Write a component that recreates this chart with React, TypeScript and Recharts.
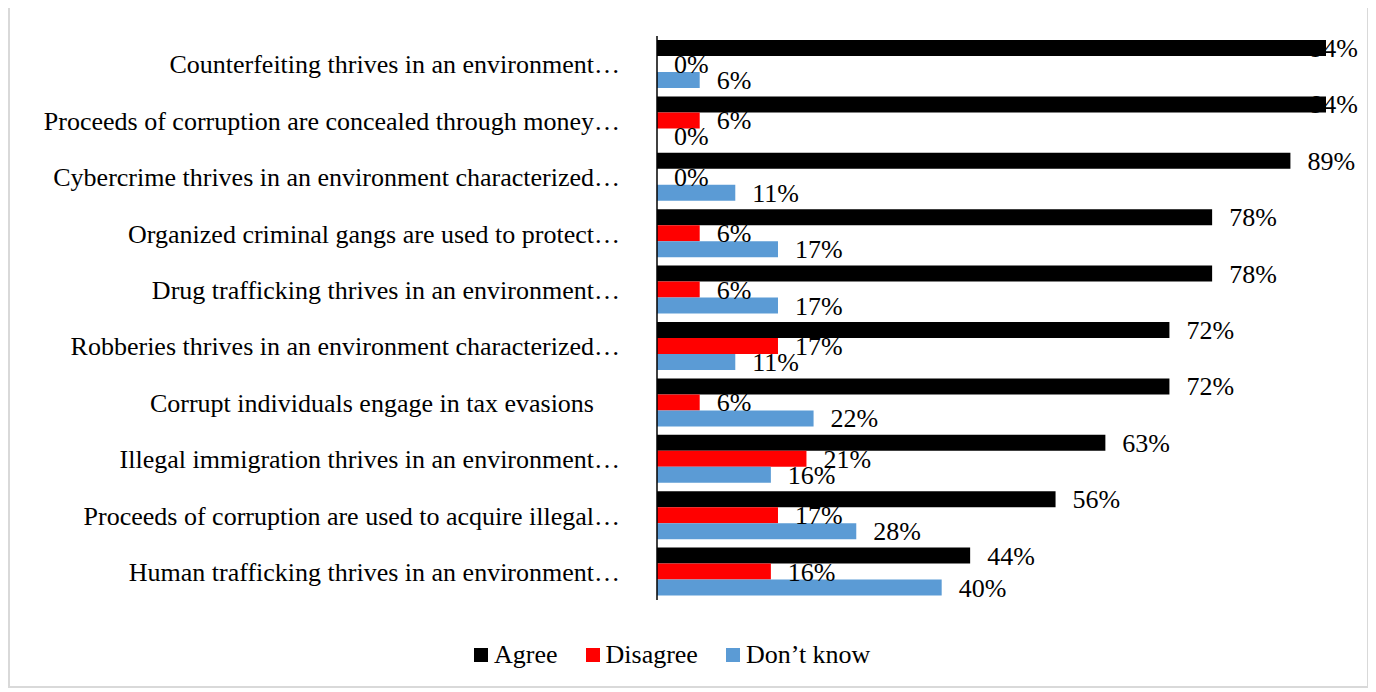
import { Bar, BarChart, LabelList, Legend, XAxis, YAxis } from 'recharts'

const categories = [
  'Counterfeiting thrives in an environment…',
  'Proceeds of corruption are concealed through money…',
  'Cybercrime thrives in an environment characterized…',
  'Organized criminal gangs are used to protect…',
  'Drug trafficking thrives in an environment…',
  'Robberies thrives in an environment characterized…',
  'Corrupt individuals engage in tax evasions\u00a0\u00a0\u00a0\u00a0',
  'Illegal immigration thrives in an environment…',
  'Proceeds of corruption are used to acquire illegal…',
  'Human trafficking thrives in an environment…',
]
const agree = [94, 94, 89, 78, 78, 72, 72, 63, 56, 44]
const disagree = [0, 6, 0, 6, 6, 17, 6, 21, 17, 16]
const dontKnow = [6, 0, 11, 17, 17, 11, 22, 16, 28, 40]

const seriesNames = ['Agree', 'Disagree', 'Don’t know']
const seriesColors = ['#000000', '#ff0000', '#5b9bd5']

const FONT = '"Liberation Serif", "Times New Roman", serif'
const LABEL_LIMIT = 1348

const rows = categories.map((name, i) => ({ name, agree: agree[i], disagree: disagree[i], dontKnow: dontKnow[i] }))

function ValueLabel(props: any) {
  const { x, y, width, height, value } = props
  let tx = Number(x) + Math.max(0, Number(width)) + 17
  let anchor: 'start' | 'end' = 'start'
  if (tx + 48 > LABEL_LIMIT) {
    tx = LABEL_LIMIT
    anchor = 'end'
  }
  return (
    <text x={tx} y={Number(y) + Number(height) / 2 + 9} textAnchor={anchor} fontSize={26} fontFamily={FONT} fill="#000">
      {`${value}%`}
    </text>
  )
}

function ChartLegend() {
  return (
    <div style={{ height: 30, display: 'flex', alignItems: 'center', paddingLeft: 464, fontFamily: FONT, fontSize: 26, color: '#000' }}>
      {seriesNames.map((name, i) => (
        <div key={name} style={{ display: 'flex', alignItems: 'center', marginRight: 28 }}>
          <span style={{ width: 14, height: 14, background: seriesColors[i], marginRight: 6, display: 'inline-block' }} />
          <span>{name}</span>
        </div>
      ))}
    </div>
  )
}

export default function App() {
  return (
    <div style={{ position: 'relative', width: 1361, height: 683, border: '2px solid #d9d9d9', boxSizing: 'border-box', marginTop: -3, background: '#fff' }}>
      <BarChart width={1356} height={678} data={rows} layout="vertical" barSize={16} barGap={0} margin={{ top: 29, right: 40, bottom: 55, left: 0 }}>
        <XAxis type="number" domain={[0, 94]} hide />
        <YAxis
          type="category"
          dataKey="name"
          width={647}
          interval={0}
          tickLine={false}
          tickSize={0}
          tickMargin={37}
          axisLine={{ stroke: '#000', strokeWidth: 1.5 }}
          tick={{ fontSize: 26, fontFamily: FONT, fill: '#000' }}
        />
        <Legend verticalAlign="bottom" content={<ChartLegend />} wrapperStyle={{ left: 0, width: 1356, bottom: 15 }} />
        <Bar dataKey="agree" name={seriesNames[0]} fill={seriesColors[0]} minPointSize={0.01} isAnimationActive={false}>
          <LabelList dataKey="agree" content={<ValueLabel />} />
        </Bar>
        <Bar dataKey="disagree" name={seriesNames[1]} fill={seriesColors[1]} minPointSize={0.01} isAnimationActive={false}>
          <LabelList dataKey="disagree" content={<ValueLabel />} />
        </Bar>
        <Bar dataKey="dontKnow" name={seriesNames[2]} fill={seriesColors[2]} minPointSize={0.01} isAnimationActive={false}>
          <LabelList dataKey="dontKnow" content={<ValueLabel />} />
        </Bar>
      </BarChart>
    </div>
  )
}
